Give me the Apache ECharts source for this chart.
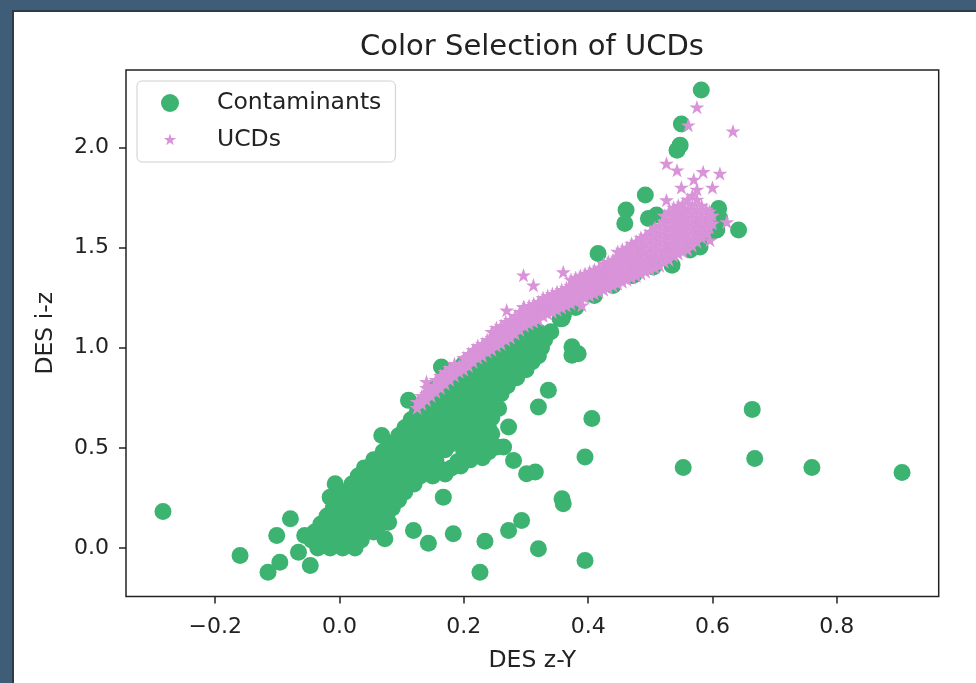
<!DOCTYPE html>
<html>
<head>
<meta charset="utf-8">
<title>Color Selection of UCDs</title>
<script src="https://cdn.jsdelivr.net/npm/echarts@6/dist/echarts.min.js"></script>
<style>
  html, body { margin: 0; padding: 0; width: 976px; height: 683px; overflow: hidden; background: #3f5d77; }
  #sheet { position: absolute; left: 12px; top: 10px; right: 0; bottom: 0; background: #fff;
           border-left: 2px solid #2c3b48; border-top: 2px solid #2c3b48; }
  #chart { position: absolute; left: 0; top: 0; width: 976px; height: 683px; }
</style>
</head>
<body>
<div id="sheet"></div>
<div id="chart"></div>
<script>
// Axis ticks
const xTicks = [-0.2, 0.0, 0.2, 0.4, 0.6, 0.8];
const yTicks = [0.0, 0.5, 1.0, 1.5, 2.0];

// Contaminants: main stellar locus (DES z-Y, DES i-z)
const contaminantsLocus = [
  [-0.035,0.00],[-0.015,0.00],[0.005,0.00],[0.025,0.00],
  [-0.045,0.04],[-0.025,0.04],[-0.005,0.04],[0.015,0.04],[0.035,0.04],
  [-0.04,0.08],[-0.02,0.08],[0.0,0.08],[0.02,0.08],[0.04,0.08],[0.055,0.08],
  [-0.03,0.12],[-0.01,0.12],[0.01,0.12],[0.03,0.12],[0.05,0.12],[0.065,0.12],
  [-0.02,0.16],[0.0,0.16],[0.02,0.16],[0.04,0.16],[0.06,0.16],[0.075,0.16],
  [-0.01,0.20],[0.01,0.20],[0.03,0.20],[0.05,0.20],[0.07,0.20],[0.085,0.20],
  [0.0,0.24],[0.02,0.24],[0.04,0.24],[0.06,0.24],[0.08,0.24],[0.095,0.24],
  [0.01,0.28],[0.03,0.28],[0.05,0.28],[0.07,0.28],[0.09,0.28],[0.105,0.28],
  [0.02,0.32],[0.04,0.32],[0.06,0.32],[0.08,0.32],[0.10,0.32],[0.12,0.32],
  [0.03,0.36],[0.05,0.36],[0.07,0.36],[0.09,0.36],[0.11,0.36],[0.13,0.36],[0.15,0.36],[0.17,0.37],
  [0.04,0.40],[0.06,0.40],[0.08,0.40],[0.10,0.40],[0.12,0.40],[0.14,0.40],[0.16,0.40],[0.18,0.40],[0.195,0.41],
  [0.055,0.44],[0.075,0.44],[0.095,0.44],[0.115,0.44],[0.135,0.44],[0.155,0.44],[0.19,0.43],[0.21,0.44],[0.23,0.45],
  [0.07,0.48],[0.09,0.48],[0.11,0.48],[0.13,0.48],[0.15,0.48],[0.17,0.49],[0.20,0.48],[0.22,0.48],[0.24,0.48],
  [0.08,0.52],[0.10,0.52],[0.12,0.52],[0.14,0.52],[0.16,0.52],[0.18,0.52],[0.20,0.52],[0.22,0.52],[0.24,0.52],
  [0.095,0.56],[0.115,0.56],[0.135,0.56],[0.155,0.56],[0.175,0.56],[0.195,0.56],[0.215,0.56],[0.235,0.56],[0.245,0.57],
  [0.105,0.60],[0.125,0.60],[0.145,0.60],[0.165,0.60],[0.185,0.60],[0.205,0.60],[0.225,0.60],[0.24,0.60],
  [0.115,0.64],[0.135,0.64],[0.155,0.64],[0.175,0.64],[0.195,0.64],[0.215,0.64],[0.235,0.64],[0.245,0.65],
  [0.125,0.68],[0.145,0.68],[0.165,0.68],[0.185,0.68],[0.205,0.68],[0.225,0.68],[0.24,0.68],
  [0.135,0.72],[0.155,0.72],[0.175,0.72],[0.195,0.72],[0.215,0.72],[0.235,0.72],[0.245,0.73],
  [0.145,0.76],[0.165,0.76],[0.185,0.76],[0.205,0.76],[0.225,0.76],[0.245,0.76],[0.26,0.77],
  [0.155,0.80],[0.175,0.80],[0.195,0.80],[0.215,0.80],[0.235,0.80],[0.255,0.80],[0.27,0.81],
  [0.17,0.84],[0.19,0.84],[0.21,0.84],[0.23,0.84],[0.25,0.84],[0.27,0.84],[0.285,0.85],
  [0.185,0.88],[0.205,0.88],[0.225,0.88],[0.245,0.88],[0.265,0.88],[0.285,0.88],[0.30,0.89],
  [0.20,0.92],[0.22,0.92],[0.24,0.92],[0.26,0.92],[0.28,0.92],[0.30,0.92],[0.31,0.93],
  [0.22,0.96],[0.24,0.96],[0.26,0.96],[0.28,0.96],[0.30,0.96],[0.32,0.96],
  [0.245,1.00],[0.265,1.00],[0.285,1.00],[0.305,1.00],[0.325,1.00],
  [0.27,1.04],[0.29,1.04],[0.31,1.04],[0.33,1.04],
  [0.30,1.08],[0.32,1.08],[0.34,1.08],
  [0.36,1.16],[0.38,1.20],[0.41,1.26],[0.44,1.31],[0.47,1.36],[0.50,1.42],
  [0.53,1.46],[0.56,1.50],[0.58,1.54],[0.60,1.58],[0.60,1.62],[0.58,1.60]
];

// Contaminants scattered away from the locus
const contaminantsOutliers = [
  [-0.284,0.182],[-0.160,-0.037],[-0.115,-0.121],[-0.096,-0.071],[-0.101,0.062],
  [-0.079,0.146],[-0.066,-0.021],[-0.047,-0.087],[-0.056,0.062],[-0.015,0.254],
  [-0.007,0.321],[0.022,0.279],[0.068,0.562],[0.073,0.046],[0.079,0.129],
  [0.119,0.087],[0.143,0.024],[0.167,0.254],[0.183,0.071],[0.226,-0.121],
  [0.234,0.034],[0.272,0.087],[0.293,0.137],[0.320,-0.004],[0.301,0.371],
  [0.315,0.379],[0.280,0.437],[0.264,0.504],[0.253,0.504],[0.272,0.604],
  [0.256,0.696],[0.320,0.704],[0.336,0.787],[0.358,0.246],[0.360,0.221],
  [0.374,0.962],[0.384,0.970],[0.406,0.646],[0.395,0.454],[0.395,-0.062],
  [0.358,1.145],[0.111,0.737],[0.164,0.904],[0.301,0.912],
  [0.553,0.402],[0.664,0.692],[0.668,0.447],[0.760,0.402],[0.905,0.377],
  [0.582,2.286],[0.550,2.116],[0.548,2.011],[0.543,1.986],[0.492,1.762],
  [0.461,1.687],[0.459,1.620],[0.510,1.662],[0.497,1.645],[0.610,1.695],
  [0.612,1.645],[0.642,1.587],[0.607,1.587],[0.580,1.503],[0.564,1.487],
  [0.535,1.412],[0.505,1.403],[0.473,1.362],[0.416,1.470],[0.355,1.145],
  [0.430,1.328],[0.374,1.004],[0.301,1.029],[0.320,1.054]
];

// UCD candidates along the sequence
const ucdSequence = [
  [0.125,0.70],[0.125,0.73],
  [0.14,0.74],[0.14,0.77],[0.14,0.80],
  [0.155,0.78],[0.155,0.81],[0.155,0.84],
  [0.17,0.82],[0.17,0.85],[0.17,0.88],
  [0.185,0.86],[0.185,0.89],[0.185,0.92],
  [0.20,0.89],[0.20,0.92],[0.20,0.95],
  [0.215,0.93],[0.215,0.96],[0.215,0.99],
  [0.23,0.96],[0.23,0.99],[0.23,1.02],
  [0.245,0.99],[0.245,1.02],[0.245,1.05],[0.245,1.08],
  [0.26,1.02],[0.26,1.05],[0.26,1.08],[0.26,1.11],
  [0.275,1.05],[0.275,1.08],[0.275,1.11],[0.275,1.14],
  [0.29,1.09],[0.29,1.12],[0.29,1.15],[0.29,1.18],
  [0.305,1.12],[0.305,1.15],[0.305,1.18],[0.305,1.21],
  [0.32,1.14],[0.32,1.17],[0.32,1.20],[0.32,1.23],
  [0.335,1.17],[0.335,1.20],[0.335,1.23],[0.335,1.26],
  [0.35,1.19],[0.35,1.22],[0.35,1.25],[0.35,1.28],
  [0.365,1.21],[0.365,1.24],[0.365,1.27],[0.365,1.30],
  [0.38,1.23],[0.38,1.26],[0.38,1.29],[0.38,1.32],[0.38,1.35],
  [0.395,1.25],[0.395,1.28],[0.395,1.31],[0.395,1.34],[0.395,1.37],
  [0.41,1.27],[0.41,1.30],[0.41,1.33],[0.41,1.36],[0.41,1.39],
  [0.425,1.29],[0.425,1.32],[0.425,1.35],[0.425,1.38],[0.425,1.42],
  [0.44,1.31],[0.44,1.34],[0.44,1.37],[0.44,1.40],[0.44,1.44],
  [0.455,1.33],[0.455,1.36],[0.455,1.39],[0.455,1.42],[0.455,1.46],[0.455,1.49],
  [0.47,1.35],[0.47,1.38],[0.47,1.41],[0.47,1.45],[0.47,1.48],[0.47,1.52],
  [0.485,1.37],[0.485,1.40],[0.485,1.43],[0.485,1.47],[0.485,1.51],[0.485,1.55],
  [0.50,1.39],[0.50,1.42],[0.50,1.46],[0.50,1.50],[0.50,1.54],[0.50,1.58],
  [0.515,1.41],[0.515,1.45],[0.515,1.49],[0.515,1.53],[0.515,1.57],[0.515,1.61],
  [0.53,1.44],[0.53,1.48],[0.53,1.52],[0.53,1.56],[0.53,1.60],[0.53,1.64],[0.53,1.68],
  [0.545,1.47],[0.545,1.51],[0.545,1.55],[0.545,1.59],[0.545,1.63],[0.545,1.67],[0.545,1.71],
  [0.56,1.49],[0.56,1.53],[0.56,1.57],[0.56,1.61],[0.56,1.65],[0.56,1.69],[0.56,1.74],
  [0.575,1.53],[0.575,1.57],[0.575,1.61],[0.575,1.65],[0.575,1.69],[0.575,1.74],[0.575,1.79],
  [0.59,1.57],[0.59,1.61],[0.59,1.65],[0.59,1.69],
  [0.60,1.62],[0.60,1.66]
];

// More UCD candidates packed between the columns above
const ucdSequenceFill = [
  [0.1325,0.72],[0.1325,0.76],
  [0.1475,0.76],[0.1475,0.79],
  [0.1625,0.80],[0.1625,0.83],[0.1625,0.86],
  [0.1775,0.84],[0.1775,0.87],[0.1775,0.90],
  [0.1925,0.88],[0.1925,0.91],
  [0.2075,0.91],[0.2075,0.94],[0.2075,0.97],
  [0.2225,0.95],[0.2225,0.98],[0.2225,1.01],
  [0.2375,0.98],[0.2375,1.01],[0.2375,1.04],
  [0.2525,1.01],[0.2525,1.04],[0.2525,1.07],[0.2525,1.10],
  [0.2675,1.04],[0.2675,1.07],[0.2675,1.10],[0.2675,1.13],
  [0.2825,1.07],[0.2825,1.10],[0.2825,1.13],[0.2825,1.16],
  [0.2975,1.11],[0.2975,1.14],[0.2975,1.17],[0.2975,1.20],
  [0.3125,1.13],[0.3125,1.16],[0.3125,1.19],[0.3125,1.22],
  [0.3275,1.16],[0.3275,1.19],[0.3275,1.22],[0.3275,1.25],
  [0.3425,1.18],[0.3425,1.21],[0.3425,1.24],[0.3425,1.27],
  [0.3575,1.20],[0.3575,1.23],[0.3575,1.26],[0.3575,1.29],
  [0.3725,1.22],[0.3725,1.25],[0.3725,1.28],[0.3725,1.31],[0.3725,1.34],
  [0.3875,1.24],[0.3875,1.27],[0.3875,1.30],[0.3875,1.33],[0.3875,1.36],
  [0.4025,1.26],[0.4025,1.29],[0.4025,1.32],[0.4025,1.35],[0.4025,1.38],
  [0.4175,1.28],[0.4175,1.31],[0.4175,1.34],[0.4175,1.37],[0.4175,1.40],
  [0.4325,1.30],[0.4325,1.33],[0.4325,1.36],[0.4325,1.39],[0.4325,1.43],
  [0.4475,1.32],[0.4475,1.35],[0.4475,1.38],[0.4475,1.41],[0.4475,1.45],[0.4475,1.48],
  [0.4625,1.34],[0.4625,1.37],[0.4625,1.40],[0.4625,1.44],[0.4625,1.47],[0.4625,1.50],
  [0.4775,1.36],[0.4775,1.39],[0.4775,1.42],[0.4775,1.46],[0.4775,1.50],[0.4775,1.53],
  [0.4925,1.38],[0.4925,1.41],[0.4925,1.44],[0.4925,1.48],[0.4925,1.52],[0.4925,1.56],
  [0.5075,1.40],[0.5075,1.44],[0.5075,1.48],[0.5075,1.52],[0.5075,1.56],[0.5075,1.60],
  [0.5225,1.43],[0.5225,1.47],[0.5225,1.51],[0.5225,1.55],[0.5225,1.59],[0.5225,1.63],[0.5225,1.66],
  [0.5375,1.46],[0.5375,1.50],[0.5375,1.54],[0.5375,1.58],[0.5375,1.62],[0.5375,1.66],[0.5375,1.70],
  [0.5525,1.48],[0.5525,1.52],[0.5525,1.56],[0.5525,1.60],[0.5525,1.64],[0.5525,1.68],[0.5525,1.72],
  [0.5675,1.51],[0.5675,1.55],[0.5675,1.59],[0.5675,1.63],[0.5675,1.67],[0.5675,1.71],[0.5675,1.76],
  [0.5825,1.55],[0.5825,1.59],[0.5825,1.63],[0.5825,1.67],[0.5825,1.71],
  [0.595,1.60],[0.595,1.64],[0.595,1.68]
];

// UCD candidates off the sequence
const ucdScattered = [
  [0.526,1.920],[0.585,1.878],[0.612,1.870],[0.543,1.886],[0.296,1.362],
  [0.312,1.312],[0.360,1.378],[0.390,1.212],[0.269,1.187],[0.296,1.204],
  [0.623,1.628],[0.596,1.537],[0.575,2.201],[0.561,2.111],[0.633,2.081],
  [0.526,1.737],[0.600,1.800],[0.570,1.840],[0.550,1.800],[0.140,0.830]
];

const contaminants = contaminantsLocus.concat(contaminantsOutliers);
const ucds = ucdSequence.concat(ucdSequenceFill, ucdScattered);

const GREEN = '#3cb371';
const PINK = '#d993d9';
const FONT = 'DejaVu Sans';
const TEXT = '#222';

// five-pointed star, like a '*' marker
const STAR = 'path://M50,0L61.23,34.55L97.55,34.55L68.17,55.9L79.39,90.45L50,69.1L20.61,90.45L31.83,55.9L2.45,34.55L38.77,34.55Z';
// same star with empty margin so the legend icon stays small
const STAR_LEGEND = 'path://M-18,-18M118,118M50,0L61.23,34.55L97.55,34.55L68.17,55.9L79.39,90.45L50,69.1L20.61,90.45L31.83,55.9L2.45,34.55L38.77,34.55Z';

const fmt = v => (v < 0 ? '\u2212' : '') + Math.abs(v).toFixed(1);

const chart = echarts.init(document.getElementById('chart'), null, { renderer: 'canvas' });
chart.setOption({
  animation: false,
  backgroundColor: 'transparent',
  textStyle: { fontFamily: FONT, color: TEXT },
  title: {
    text: 'Color Selection of UCDs',
    left: 532, top: 33, padding: 0,
    textAlign: 'center',
    textStyle: { fontFamily: FONT, fontSize: 29, fontWeight: 'normal', color: TEXT }
  },
  legend: {
    orient: 'vertical',
    left: 137, top: 81,
    padding: [10, 14, 10, 24],
    itemWidth: 18, itemHeight: 18, itemGap: 13,
    backgroundColor: '#fff',
    borderColor: '#cfcfcf', borderWidth: 1, borderRadius: 5,
    textStyle: { fontFamily: FONT, fontSize: 23.5, color: TEXT, padding: [0, 0, 0, 33] },
    data: [
      { name: 'Contaminants', icon: 'circle' },
      { name: 'UCDs', icon: STAR_LEGEND }
    ]
  },
  grid: {
    left: 126, right: 37.3, top: 70, bottom: 86.5,
    show: true, borderColor: '#222', borderWidth: 1.5, backgroundColor: 'transparent'
  },
  xAxis: {
    type: 'value', min: -0.3435, max: 0.964,
    name: 'DES z-Y', nameLocation: 'middle', nameGap: 52,
    nameTextStyle: { fontFamily: FONT, fontSize: 23.5, color: TEXT },
    splitLine: { show: false },
    axisLine: { show: false, onZero: false },
    axisTick: { show: true, inside: false, length: 7, lineStyle: { color: '#222', width: 1.5 }, customValues: xTicks },
    axisLabel: { fontFamily: FONT, fontSize: 22, color: TEXT, margin: 20, formatter: fmt, customValues: xTicks }
  },
  yAxis: {
    type: 'value', min: -0.242, max: 2.386,
    name: 'DES i-z', nameLocation: 'middle', nameGap: 68,
    nameTextStyle: { fontFamily: FONT, fontSize: 23.5, color: TEXT },
    splitLine: { show: false },
    axisLine: { show: false, onZero: false },
    axisTick: { show: true, inside: false, length: 7, lineStyle: { color: '#222', width: 1.5 }, customValues: yTicks },
    axisLabel: { fontFamily: FONT, fontSize: 22, color: TEXT, margin: 17, formatter: fmt, customValues: yTicks }
  },
  series: [
    {
      name: 'Contaminants', type: 'scatter',
      symbol: 'circle', symbolSize: 17,
      itemStyle: { color: GREEN, opacity: 1 },
      emphasis: { disabled: true },
      data: contaminants
    },
    {
      name: 'UCDs', type: 'scatter',
      symbol: STAR, symbolSize: 15, symbolKeepAspect: true,
      itemStyle: { color: PINK, opacity: 1 },
      emphasis: { disabled: true },
      data: ucds
    }
  ]
});
</script>
</body>
</html>
